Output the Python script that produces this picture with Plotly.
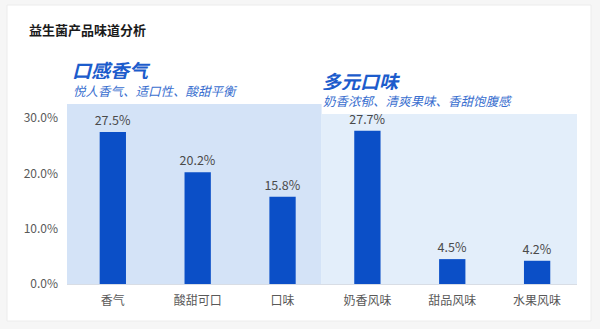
import plotly.graph_objects as go

categories = ["香气", "酸甜可口", "口味", "奶香风味", "甜品风味", "水果风味"]
values = [27.5, 20.2, 15.8, 27.7, 4.5, 4.2]
y_ticks = [0, 10, 20, 30]
y_tick_labels = ["0.0%", "10.0%", "20.0%", "30.0%"]
title = "益生菌产品味道分析"
group1_title = "口感香气"
group1_sub = "悦人香气、适口性、酸甜平衡"
group2_title = "多元口味"
group2_sub = "奶香浓郁、清爽果味、香甜饱腹感"

FONT = "Noto Sans CJK SC"
W, H = 600, 329
L, R, T, B = 67, 23, 104, 45
pw, ph = W - L - R, H - T - B

def px(x):
    return (x - L) / pw

def py(y):
    return (H - B - y) / ph

fig = go.Figure()
fig.add_trace(go.Bar(
    x=list(range(len(categories))), y=values,
    marker=dict(color="#0b4fc7", line=dict(width=0)),
    width=0.31,
    text=[f"{v:.1f}%" for v in values],
    textposition="outside",
    constraintext="none",
    textfont=dict(family=FONT, size=12.5, color="#4a4a4a"),
    cliponaxis=False,
))

shapes = [
    # card
    dict(type="rect", xref="paper", yref="paper", x0=px(7), x1=px(591), y0=py(321), y1=py(5),
         fillcolor="white", line=dict(color="#ececec", width=1), layer="below"),
    # group backgrounds
    dict(type="rect", xref="x", yref="y", x0=-0.54, x1=2.46, y0=-0.3, y1=32.55,
         fillcolor="#d4e3f7", line=dict(width=0), layer="below"),
    dict(type="rect", xref="x", yref="y", x0=2.46, x1=5.51, y0=-0.3, y1=30.75,
         fillcolor="#e3eefa", line=dict(width=0), layer="below"),
]

annotations = [
    dict(text=f"<b>{title}</b>", xref="paper", yref="paper", x=px(27), y=py(30),
         xanchor="left", yanchor="middle", showarrow=False,
         font=dict(family=FONT, size=13, color="#1a1a1a")),
    dict(text=f"<b><i>{group1_title}</i></b>", xref="paper", yref="paper", x=px(70), y=py(68.5),
         xanchor="left", yanchor="middle", showarrow=False, height=20,
         font=dict(family=FONT, size=19, color="#1c5ccc")),
    dict(text=f"<i>{group1_sub}</i>", xref="paper", yref="paper", x=px(71), y=py(90),
         xanchor="left", yanchor="middle", showarrow=False, height=15,
         font=dict(family=FONT, size=12.5, color="#3a6fcf")),
    dict(text=f"<b><i>{group2_title}</i></b>", xref="paper", yref="paper", x=px(320), y=py(80),
         xanchor="left", yanchor="middle", showarrow=False, height=20,
         font=dict(family=FONT, size=19, color="#1c5ccc")),
    dict(text=f"<i>{group2_sub}</i>", xref="paper", yref="paper", x=px(321), y=py(100.5),
         xanchor="left", yanchor="middle", showarrow=False, height=15,
         font=dict(family=FONT, size=12.5, color="#3a6fcf")),
]

fig.update_layout(
    width=W, height=H,
    margin=dict(l=L, r=R, t=T, b=B, pad=0),
    paper_bgcolor="#f6f6f6", plot_bgcolor="rgba(0,0,0,0)",
    showlegend=False,
    shapes=shapes, annotations=annotations,
    xaxis=dict(
        tickmode="array", tickvals=list(range(len(categories))), ticktext=categories,
        range=[-0.54, 5.47], showgrid=False, zeroline=False,
        showline=True, linecolor="#d8dde5", linewidth=1,
        tickfont=dict(family=FONT, size=12, color="#595959"),
        ticks="", ticklabelstandoff=6,
    ),
    yaxis=dict(
        tickmode="array", tickvals=y_ticks, ticktext=y_tick_labels,
        range=[0, 32.55], showgrid=False, zeroline=False, showline=False,
        tickfont=dict(family=FONT, size=12, color="#595959"),
        ticks="", ticklabelstandoff=8,
    ),
    bargap=0.7,
)

fig.write_html("out.html")
